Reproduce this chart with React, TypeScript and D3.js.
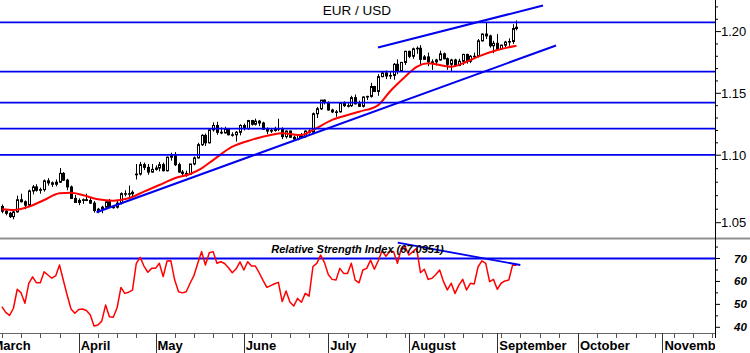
import React from 'react';
import * as d3 from 'd3';

const W = 750;
const H = 353;

// Daily EUR/USD candles, index 0 = first trading day shown (early March)
const opens = [
  1.0620, 1.0585, 1.0570, 1.0545, 1.0580, 1.0670, 1.0655, 1.0630, 1.0735, 1.0765,
  1.0740, 1.0745, 1.0810, 1.0795, 1.0785, 1.0800, 1.0865, 1.0815, 1.0765, 1.0680,
  1.0650, 1.0665, 1.0670, 1.0665, 1.0645, 1.0590, 1.0600, 1.0615, 1.0655, 1.0615,
  1.0615, 1.0645, 1.0715, 1.0715, 1.0715, 1.0855, 1.0860, 1.0930, 1.0910, 1.0875,
  1.0895, 1.0905, 1.0930, 1.0885, 1.0985, 1.0995, 1.0930, 1.0875, 1.0865, 1.0860,
  1.0935, 1.0980, 1.1085, 1.1160, 1.1100, 1.1205, 1.1240, 1.1185, 1.1180, 1.1210,
  1.1165, 1.1165, 1.1185, 1.1240, 1.1215, 1.1280, 1.1250, 1.1275, 1.1260, 1.1210,
  1.1195, 1.1200, 1.1210, 1.1215, 1.1150, 1.1195, 1.1145, 1.1130, 1.1165, 1.1150,
  1.1195, 1.1185, 1.1335, 1.1375, 1.1445, 1.1425, 1.1365, 1.1350, 1.1350, 1.1420,
  1.1400, 1.1400, 1.1465, 1.1415, 1.1395, 1.1470, 1.1475, 1.1555, 1.1515, 1.1635,
  1.1665, 1.1640, 1.1645, 1.1735, 1.1680, 1.1750, 1.1840, 1.1800, 1.1860, 1.1865,
  1.1775, 1.1795, 1.1755, 1.1755, 1.1770, 1.1820, 1.1780, 1.1735, 1.1770, 1.1725,
  1.1760, 1.1815, 1.1760, 1.1800, 1.1800, 1.1925, 1.1980, 1.1965, 1.1885, 1.1905,
  1.1860, 1.1890, 1.1915, 1.1920, 1.2025,
];
const highs = [
  1.0635, 1.0600, 1.0580, 1.0600, 1.0700, 1.0715, 1.0665, 1.0745, 1.0780, 1.0785,
  1.0760, 1.0820, 1.0830, 1.0805, 1.0820, 1.0905, 1.0875, 1.0825, 1.0775, 1.0705,
  1.0680, 1.0680, 1.0715, 1.0685, 1.0660, 1.0610, 1.0625, 1.0660, 1.0675, 1.0625,
  1.0670, 1.0725, 1.0740, 1.0775, 1.0740, 1.0935, 1.0950, 1.0945, 1.0935, 1.0935,
  1.0925, 1.0950, 1.0945, 1.0990, 1.1020, 1.1025, 1.0945, 1.0890, 1.0885, 1.0935,
  1.0990, 1.1100, 1.1170, 1.1175, 1.1210, 1.1265, 1.1270, 1.1225, 1.1230, 1.1215,
  1.1185, 1.1195, 1.1250, 1.1255, 1.1285, 1.1285, 1.1295, 1.1285, 1.1270, 1.1225,
  1.1220, 1.1230, 1.1295, 1.1225, 1.1200, 1.1200, 1.1160, 1.1170, 1.1180, 1.1200,
  1.1210, 1.1345, 1.1390, 1.1445, 1.1450, 1.1435, 1.1375, 1.1365, 1.1425, 1.1435,
  1.1420, 1.1480, 1.1490, 1.1440, 1.1475, 1.1480, 1.1585, 1.1560, 1.1655, 1.1680,
  1.1685, 1.1675, 1.1745, 1.1775, 1.1755, 1.1845, 1.1845, 1.1870, 1.1880, 1.1890,
  1.1810, 1.1830, 1.1775, 1.1780, 1.1845, 1.1830, 1.1790, 1.1780, 1.1780, 1.1780,
  1.1820, 1.1820, 1.1810, 1.1830, 1.1940, 1.1985, 1.2070, 1.1975, 1.1925, 1.1980,
  1.1895, 1.1925, 1.1945, 1.2060, 1.2090,
];
const lows = [
  1.0570, 1.0555, 1.0535, 1.0525, 1.0575, 1.0650, 1.0600, 1.0615, 1.0710, 1.0730,
  1.0715, 1.0730, 1.0775, 1.0765, 1.0770, 1.0795, 1.0810, 1.0740, 1.0675, 1.0650,
  1.0630, 1.0640, 1.0660, 1.0640, 1.0575, 1.0570, 1.0570, 1.0600, 1.0610, 1.0605,
  1.0605, 1.0635, 1.0695, 1.0690, 1.0685, 1.0820, 1.0850, 1.0890, 1.0855, 1.0870,
  1.0885, 1.0880, 1.0880, 1.0880, 1.0960, 1.0920, 1.0870, 1.0840, 1.0840, 1.0855,
  1.0925, 1.0975, 1.1075, 1.1075, 1.1095, 1.1190, 1.1165, 1.1170, 1.1175, 1.1160,
  1.1150, 1.1110, 1.1160, 1.1200, 1.1205, 1.1240, 1.1240, 1.1235, 1.1205, 1.1170,
  1.1180, 1.1190, 1.1195, 1.1130, 1.1135, 1.1140, 1.1120, 1.1120, 1.1150, 1.1140,
  1.1175, 1.1175, 1.1300, 1.1365, 1.1410, 1.1360, 1.1340, 1.1310, 1.1345, 1.1390,
  1.1385, 1.1390, 1.1410, 1.1390, 1.1385, 1.1445, 1.1465, 1.1510, 1.1480, 1.1630,
  1.1615, 1.1615, 1.1610, 1.1655, 1.1675, 1.1730, 1.1785, 1.1780, 1.1820, 1.1730,
  1.1770, 1.1720, 1.1690, 1.1725, 1.1765, 1.1775, 1.1690, 1.1680, 1.1715, 1.1720,
  1.1730, 1.1740, 1.1745, 1.1780, 1.1790, 1.1920, 1.1940, 1.1870, 1.1825, 1.1855,
  1.1855, 1.1875, 1.1885, 1.1900, 1.2010,
];
const closes = [
  1.0585, 1.0570, 1.0545, 1.0580, 1.0670, 1.0655, 1.0630, 1.0735, 1.0765, 1.0740,
  1.0745, 1.0810, 1.0795, 1.0785, 1.0800, 1.0865, 1.0815, 1.0765, 1.0680, 1.0650,
  1.0665, 1.0670, 1.0665, 1.0645, 1.0590, 1.0600, 1.0615, 1.0655, 1.0615, 1.0615,
  1.0645, 1.0715, 1.0715, 1.0715, 1.0725, 1.0860, 1.0930, 1.0910, 1.0875, 1.0895,
  1.0905, 1.0930, 1.0885, 1.0985, 1.0995, 1.0930, 1.0875, 1.0865, 1.0860, 1.0935,
  1.0980, 1.1085, 1.1160, 1.1100, 1.1205, 1.1240, 1.1185, 1.1180, 1.1210, 1.1165,
  1.1165, 1.1185, 1.1240, 1.1215, 1.1280, 1.1250, 1.1275, 1.1260, 1.1210, 1.1195,
  1.1200, 1.1210, 1.1215, 1.1150, 1.1195, 1.1145, 1.1130, 1.1165, 1.1150, 1.1195,
  1.1185, 1.1335, 1.1375, 1.1445, 1.1425, 1.1365, 1.1350, 1.1350, 1.1420, 1.1400,
  1.1400, 1.1465, 1.1415, 1.1395, 1.1470, 1.1475, 1.1555, 1.1515, 1.1635, 1.1665,
  1.1640, 1.1645, 1.1735, 1.1680, 1.1750, 1.1840, 1.1800, 1.1860, 1.1865, 1.1775,
  1.1795, 1.1755, 1.1755, 1.1770, 1.1820, 1.1780, 1.1735, 1.1770, 1.1725, 1.1760,
  1.1815, 1.1760, 1.1800, 1.1800, 1.1925, 1.1980, 1.1965, 1.1885, 1.1905, 1.1860,
  1.1890, 1.1915, 1.1920, 1.2025, 1.2035,
];

// Red moving average (read at sample days)
const maIdx = [0, 3, 7, 11, 15, 18, 21, 25, 29, 33, 37, 41, 45, 49, 52, 55, 60, 65, 70, 73, 78, 81, 86, 93, 98, 101, 105, 108, 111, 117, 121, 124, 129, 134];
const maVal = [1.0599, 1.0594, 1.0619, 1.0668, 1.0718, 1.0722, 1.0705, 1.0673, 1.0663, 1.0681, 1.0730, 1.0779, 1.0829, 1.0861, 1.0903, 1.0964, 1.1069, 1.1124, 1.1163, 1.1177, 1.1163, 1.1204, 1.1285, 1.1351, 1.1405, 1.1513, 1.1634, 1.1715, 1.1743, 1.1715, 1.1756, 1.1797, 1.1851, 1.1886];

// RSI per day
const rsi = [
  49.0, 46.5, 45.2, 48.3, 56.6, 55.0, 50.5, 59.2, 62.0, 59.4,
  59.4, 64.2, 62.8, 61.4, 62.4, 67.2, 60.5, 54.0, 48.0, 46.1,
  47.8, 48.0, 47.3, 45.5, 40.6, 41.0, 42.7, 49.7, 44.6, 44.4,
  48.5, 57.4, 54.8, 55.3, 56.2, 67.9, 70.5, 66.7, 64.0, 65.7,
  65.7, 67.9, 62.1, 68.9, 69.0, 60.6, 55.5, 55.0, 55.5, 59.2,
  62.5, 67.9, 73.0, 67.2, 72.5, 73.0, 67.9, 68.6, 67.8, 66.0,
  63.8, 65.5, 68.5, 65.0, 68.6, 66.7, 66.7, 63.8, 60.5, 57.4,
  58.2, 59.0, 59.6, 51.2, 55.8, 51.0, 49.3, 52.6, 50.9, 54.8,
  53.6, 66.5, 67.9, 71.5, 68.2, 63.0, 60.9, 60.6, 65.7, 63.5,
  63.5, 67.9, 60.6, 59.4, 65.0, 65.7, 69.3, 65.3, 69.0, 73.4,
  71.0, 73.0, 73.0, 67.9, 74.4, 75.1, 71.5, 73.0, 74.4, 63.8,
  65.3, 60.9, 61.4, 63.0, 65.0, 59.9, 56.3, 59.2, 54.8, 58.4,
  60.9, 56.3, 59.2, 58.9, 66.4, 69.0, 67.9, 59.9, 60.9, 56.6,
  59.2, 60.2, 60.6, 67.2, 67.1,
];

// Horizontal support / resistance levels
const levels = [1.2074, 1.1675, 1.1424, 1.1214, 1.1002];
// Trend lines: [idx1, price1, idx2, price2]
const supportLine = [24.64, 1.0577, 144.3, 1.18874];
const channelLine = [97.94, 1.18712, 140.91, 1.22115];
const rsiTrend = [103.07, 76.9, 135.0, 67.17];
const rsiLevel = 70;

const priceMajor = [1.05, 1.10, 1.15, 1.20];
const priceMinor = [1.04, 1.06, 1.07, 1.08, 1.09, 1.11, 1.12, 1.13, 1.14, 1.16, 1.17, 1.18, 1.19, 1.21, 1.22];
const rsiMajor = [40, 50, 60, 70];
const rsiMinor = [45, 55, 65, 75];

const months = ['March', 'April', 'May', 'June', 'July', 'August', 'September', 'October', 'November'];
const monthIdx = [-3, 20, 40, 63, 85, 106, 129, 150, 172];

const title = 'EUR / USD';
const rsiTitle = 'Relative Strength Index (67.0951)';

const FONT = 'Arial, "Liberation Sans", Helvetica, sans-serif';

export default function App() {
  const AX = 715;
  const BOTTOM = 333;
  const x = d3.scaleLinear().domain([0, 172]).range([1.9, 662.4]);
  const y = d3.scaleLinear().domain([1.05, 1.10, 1.15, 1.20]).range([222.7, 155.2, 93.3, 31.6]);
  const yr = d3.scaleLinear().domain([40, 70]).range([327.3, 258.5]);

  const weekIdx = d3.range(0, 190, 5);

  const maLine = d3.line<number>()
    .x((_, i) => x(maIdx[i]))
    .y((d) => y(d))
    .curve(d3.curveMonotoneX)(maVal) || '';

  const rsiPath = d3.line<number>()
    .x((_, i) => x(i))
    .y((d) => yr(d))(rsi) || '';

  const blue = '#0000ee';

  return (
    <svg width={W} height={H} viewBox={`0 0 ${W} ${H}`}
      style={{ position: 'absolute', left: 0, top: 0, background: '#fff', fontFamily: FONT }}>
      <defs>
        <clipPath id="plot"><rect x={0} y={0} width={AX} height={H} /></clipPath>
        <clipPath id="pricePanel"><rect x={0} y={0} width={AX} height={237} /></clipPath>
      </defs>
      <rect x={0} y={0} width={W} height={H} fill="#fff" />

      <g clipPath="url(#pricePanel)">
        {/* candles */}
        {closes.map((c, i) => {
          const cx = Math.round(x(i)) + 0.5;
          const o = opens[i];
          const up = c >= o;
          const top = y(Math.max(o, c));
          const bot = y(Math.min(o, c));
          return (
            <g key={i}>
              <line x1={cx} x2={cx} y1={y(highs[i])} y2={y(lows[i])} stroke="#000" strokeWidth={1} />
              <rect x={cx - 1} y={top} width={2} height={Math.max(bot - top, 0.6)}
                fill={up ? '#fff' : '#000'} stroke="#000" strokeWidth={1} />
            </g>
          );
        })}
        <path d={maLine} fill="none" stroke="#ff0000" strokeWidth={2} />
        {levels.map((p, i) => (
          <line key={i} x1={0} x2={AX} y1={y(p)} y2={y(p)} stroke={blue} strokeWidth={1.8} />
        ))}
        <line x1={x(supportLine[0])} y1={y(supportLine[1])} x2={x(supportLine[2])} y2={y(supportLine[3])} stroke={blue} strokeWidth={2} />
        <line x1={x(channelLine[0])} y1={y(channelLine[1])} x2={x(channelLine[2])} y2={y(channelLine[3])} stroke={blue} strokeWidth={2} />
        <text x={357} y={14.5} textAnchor="middle" fontSize={13.5} fill="#000">{title}</text>
      </g>

      {/* separator */}
      <line x1={0} x2={W} y1={238.5} y2={238.5} stroke="#8f8f8f" strokeWidth={2} />

      {/* RSI panel */}
      <g clipPath="url(#plot)">
        <line x1={0} x2={AX} y1={yr(rsiLevel)} y2={yr(rsiLevel)} stroke={blue} strokeWidth={1.8} />
        <path d={rsiPath} fill="none" stroke="#ff0000" strokeWidth={1.5} strokeLinejoin="round" />
        <line x1={x(rsiTrend[0])} y1={yr(rsiTrend[1])} x2={x(rsiTrend[2])} y2={yr(rsiTrend[3])} stroke={blue} strokeWidth={1.8} />
        <text x={357.5} y={253} textAnchor="middle" fontSize={11} fontWeight="bold" fontStyle="italic" fill="#000">{rsiTitle}</text>
      </g>

      {/* right axis */}
      <line x1={AX + 0.5} x2={AX + 0.5} y1={0} y2={BOTTOM + 5} stroke="#000" strokeWidth={1} />
      {priceMajor.map((p) => (
        <g key={p}>
          <line x1={AX} x2={AX + 6} y1={y(p)} y2={y(p)} stroke="#000" />
          <text x={AX + 6} y={y(p) + 4.5} fontSize={13} fill="#000">{p.toFixed(2)}</text>
        </g>
      ))}
      {priceMinor.filter((p) => y(p) > 1 && y(p) < 236).map((p) => (
        <line key={p} x1={AX} x2={AX + 3} y1={y(p)} y2={y(p)} stroke="#000" />
      ))}
      {rsiMajor.map((v) => (
        <g key={v}>
          <line x1={AX} x2={AX + 5} y1={yr(v)} y2={yr(v)} stroke="#000" />
          <text x={AX + 19} y={yr(v) + 4} fontSize={11.5} fontWeight="bold" fontStyle="italic" fill="#000">{v}</text>
        </g>
      ))}
      {rsiMinor.map((v) => (
        <line key={v} x1={AX} x2={AX + 3} y1={yr(v)} y2={yr(v)} stroke="#000" />
      ))}

      {/* bottom axis */}
      <line x1={0} x2={AX} y1={BOTTOM + 0.5} y2={BOTTOM + 0.5} stroke="#666" strokeWidth={1} />
      <g clipPath="url(#plot)">
        {weekIdx.map((i) => (
          <line key={i} x1={Math.round(x(i)) + 0.5} x2={Math.round(x(i)) + 0.5} y1={BOTTOM} y2={BOTTOM + 5} stroke="#555" />
        ))}
        {monthIdx.map((i, k) => (
          <g key={k}>
            <line x1={Math.round(x(i)) + 0.5} x2={Math.round(x(i)) + 0.5} y1={BOTTOM} y2={H} stroke="#333" />
            <text x={x(i) + 2} y={350} fontSize={13} fontWeight="bold" fill="#000">{months[k]}</text>
          </g>
        ))}
      </g>
    </svg>
  );
}
